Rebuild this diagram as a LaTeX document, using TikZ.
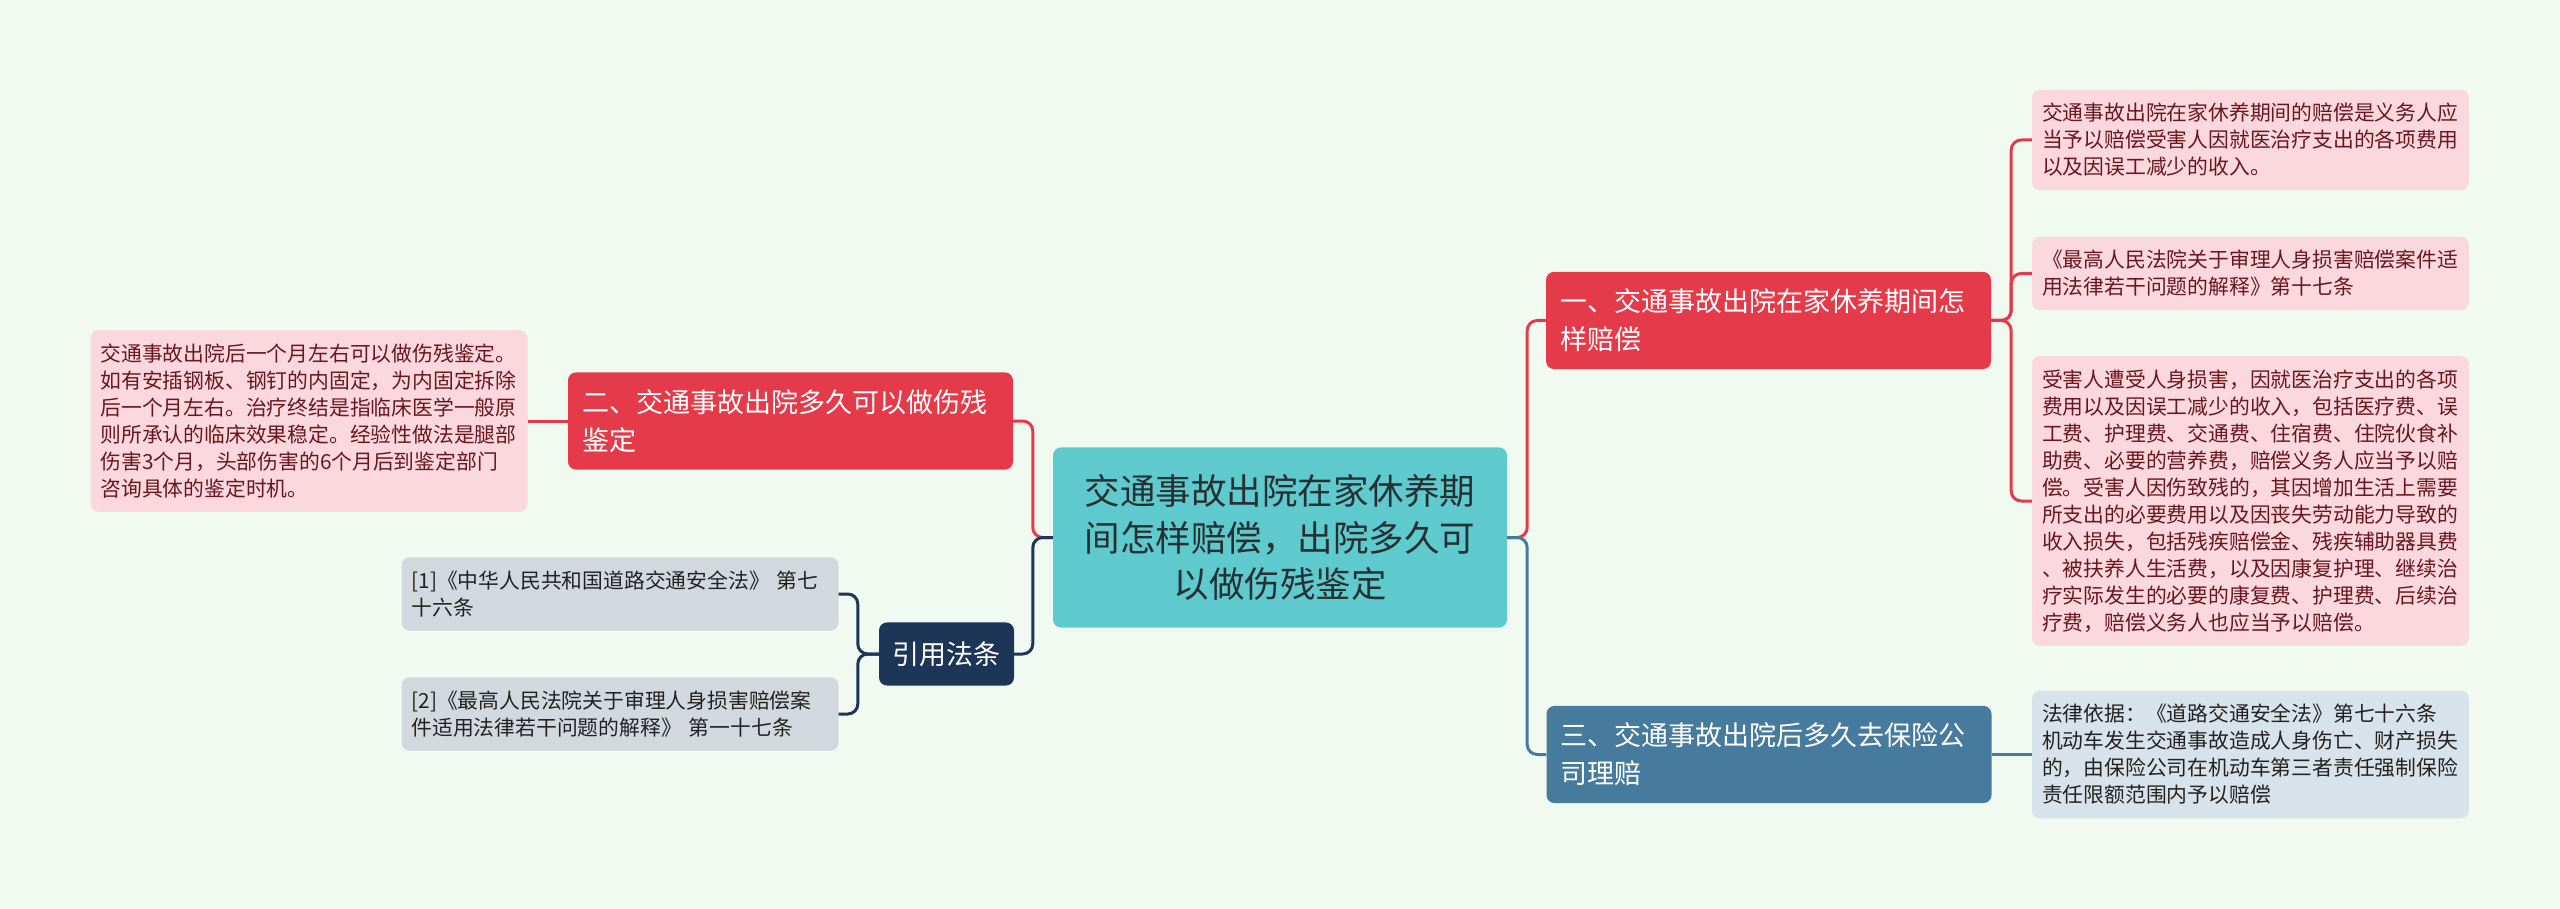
\documentclass[tikz,border=0pt]{standalone}
\usepackage{fontspec}
\setmainfont{Noto Sans CJK SC}
\usepackage{xcolor}
\definecolor{bgmint}{RGB}{240, 250, 240}
\definecolor{rootteal}{RGB}{95, 202, 205}
\definecolor{roottext}{RGB}{38, 48, 52}
\definecolor{branchred}{RGB}{229, 58, 74}
\definecolor{branchblue}{RGB}{71, 123, 157}
\definecolor{leafpink}{RGB}{250, 216, 221}
\definecolor{leafmaroon}{RGB}{105, 22, 32}
\definecolor{leafsteel}{RGB}{216, 226, 234}
\definecolor{refnavy}{RGB}{29, 53, 86}
\definecolor{refgray}{RGB}{211, 216, 222}
\definecolor{darktext}{RGB}{34, 34, 34}

\begin{document}
\begin{tikzpicture}[x=1pt, y=-1pt,
  wire/.style={line width=3pt, rounded corners=10pt},
  leaf/.style={rounded corners=8pt, align=left, text width=417pt, inner xsep=10pt, inner ysep=13.5pt, font=\fontsize{20.8}{27}\selectfont},
  pinkleaf/.style={leaf, fill=leafpink, text=leafmaroon},
  steelleaf/.style={leaf, fill=leafsteel, text=darktext},
  citeleaf/.style={leaf, fill=refgray, text=darktext},
  branch/.style={rounded corners=8pt, align=left, text width=417pt, inner xsep=14pt, inner ysep=17pt, text=white, font=\fontsize{27}{38}\selectfont},
  rootbox/.style={rounded corners=8pt, align=center, text width=414pt, inner xsep=20pt, inner ysep=27pt, fill=rootteal, text=roottext, font=\fontsize{35.5}{46.5}\selectfont}]
  \useasboundingbox (0,0) rectangle (2560,909);
  \fill[bgmint] (0,0) rectangle (2560,909);

  \node[rootbox] (root) at (1280,537.5) {交通事故出院在家休养期\\间怎样赔偿，出院多久可\\以做伤残鉴定};

  \node[branch, fill=branchred] (sec1) at (1768.5,320.5) {一、交通事故出院在家休养期间怎\\样赔偿};
  \node[branch, fill=branchblue] (sec3) at (1769,754.5) {三、交通事故出院后多久去保险公\\司理赔};
  \node[branch, fill=branchred] (sec2) at (790.5,421) {二、交通事故出院多久可以做伤残\\鉴定};
  \node[rounded corners=8pt, inner xsep=13.5pt, inner ysep=19pt, fill=refnavy, text=white, font=\fontsize{27}{38}\selectfont] (cite) at (946.5,654) {引用法条};

  \node[pinkleaf] (note1a) at (2250.5,140) {交通事故出院在家休养期间的赔偿是义务人应\\当予以赔偿受害人因就医治疗支出的各项费用\\以及因误工减少的收入。};
  \node[pinkleaf] (note1b) at (2250.5,273.5) {《最高人民法院关于审理人身损害赔偿案件适\\用法律若干问题的解释》第十七条};
  \node[pinkleaf] (note1c) at (2250.5,501) {受害人遭受人身损害，因就医治疗支出的各项\\费用以及因误工减少的收入，包括医疗费、误\\工费、护理费、交通费、住宿费、住院伙食补\\助费、必要的营养费，赔偿义务人应当予以赔\\偿。受害人因伤致残的，其因增加生活上需要\\所支出的必要费用以及因丧失劳动能力导致的\\收入损失，包括残疾赔偿金、残疾辅助器具费\\、被扶养人生活费，以及因康复护理、继续治\\疗实际发生的必要的康复费、护理费、后续治\\疗费，赔偿义务人也应当予以赔偿。};
  \node[steelleaf] (note3) at (2250.5,754.5) {法律依据：《道路交通安全法》第七十六条\\机动车发生交通事故造成人身伤亡、财产损失\\的，由保险公司在机动车第三者责任强制保险\\责任限额范围内予以赔偿};
  \node[pinkleaf] (note2) at (309,421) {交通事故出院后一个月左右可以做伤残鉴定。\\如有安插钢板、钢钉的内固定，为内固定拆除\\后一个月左右。治疗终结是指临床医学一般原\\则所承认的临床效果稳定。经验性做法是腿部\\伤害3个月，头部伤害的6个月后到鉴定部门\\咨询具体的鉴定时机。};
  \node[citeleaf] (cite1) at (620,594) {[1]《中华人民共和国道路交通安全法》 第七\\十六条};
  \node[citeleaf] (cite2) at (620,714) {[2]《最高人民法院关于审理人身损害赔偿案\\件适用法律若干问题的解释》 第一十七条};

  \draw[wire, branchred] (root.east) -- ++(20,0) |- (sec1.west);
  \draw[wire, branchblue] (root.east) -- ++(20,0) |- (sec3.west);
  \draw[wire, branchred] (root.west) -- ++(-20,0) |- (sec2.east);
  \draw[wire, refnavy] (root.west) -- ++(-20,0) |- (cite.east);
  \foreach \n in {note1a, note1b, note1c}
    \draw[wire, branchred] (sec1.east) -- ++(20,0) |- (\n.west);
  \draw[wire, branchblue] (sec3.east) -- (note3.west);
  \draw[wire, branchred] (sec2.west) -- (note2.east);
  \foreach \n in {cite1, cite2}
    \draw[wire, refnavy] (cite.west) -- ++(-21,0) |- (\n.east);
\end{tikzpicture}
\end{document}
